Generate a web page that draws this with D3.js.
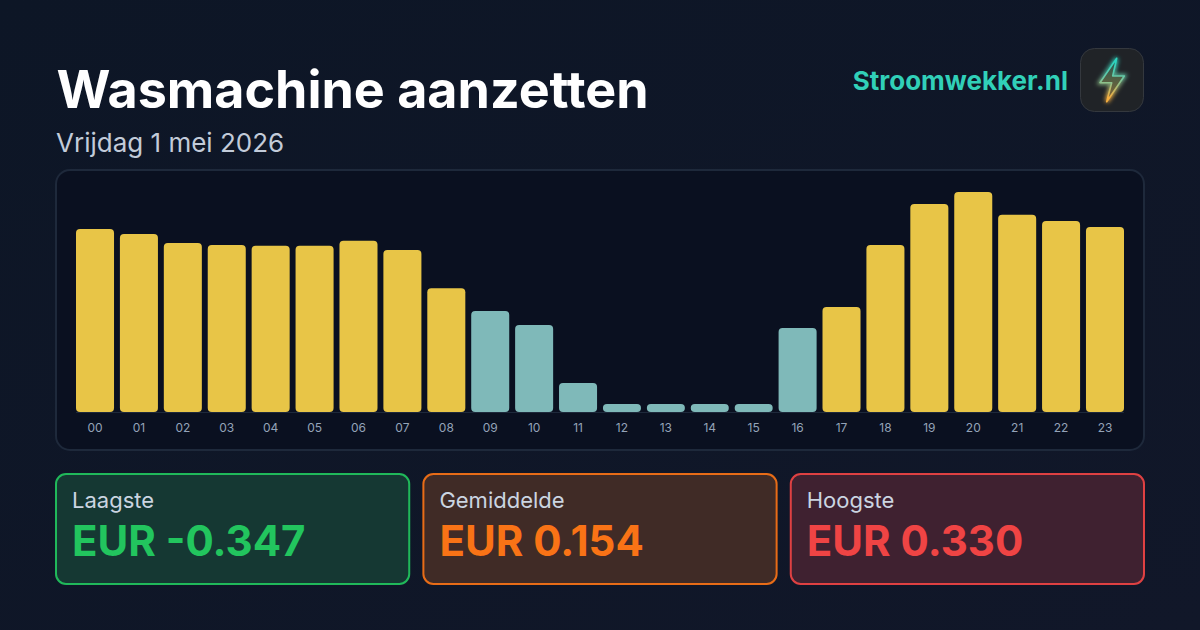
<!DOCTYPE html>
<html><head><meta charset="utf-8">
<script src="https://cdn.jsdelivr.net/npm/d3@7"></script>
<style>html,body{margin:0;padding:0;background:#0f172a;overflow:hidden}svg{display:block}text{font-family:Inter,sans-serif}</style>
</head><body><svg id="c" width="1200" height="630" xmlns="http://www.w3.org/2000/svg"></svg>
<script>
const hours = ["00","01","02","03","04","05","06","07","08","09","10","11","12","13","14","15","16","17","18","19","20","21","22","23"];
const prices = [0.212,0.196,0.167,0.161,0.158,0.158,0.174,0.145,0.023,-0.050,-0.095,-0.280,-0.347,-0.347,-0.347,-0.347,-0.104,-0.037,0.161,0.292,0.330,0.257,0.237,0.218];
const cheapHours = ["09","10","11","12","13","14","15","16"];
const statLabels = ["Laagste","Gemiddelde","Hoogste"];
const statValues = ["EUR -0.347","EUR 0.154","EUR 0.330"];
const statColors = ["#22c55e","#f97316","#ef4444"];
const statFills = ["#153833","#402b26","#3f2130"];
const title = "Wasmachine aanzetten", subtitle = "Vrijdag 1 mei 2026", brand = "Stroomwekker.nl";

const svg = d3.select("#c");
const defs = svg.append("defs");
const bg = defs.append("linearGradient").attr("id","bg").attr("x1",0).attr("y1",0).attr("x2",1).attr("y2",1);
bg.append("stop").attr("offset",0).attr("stop-color","#0d1626");
bg.append("stop").attr("offset",1).attr("stop-color","#111729");
const bolt = defs.append("linearGradient").attr("id","bolt").attr("x1",0).attr("y1",0).attr("x2",0).attr("y2",1);
bolt.append("stop").attr("offset",0.1).attr("stop-color","#2dd4bf");
bolt.append("stop").attr("offset",0.45).attr("stop-color","#6cc7a4");
bolt.append("stop").attr("offset",0.9).attr("stop-color","#f5ae3f");
const boltFill = defs.append("linearGradient").attr("id","boltFill").attr("x1",0).attr("y1",0).attr("x2",0).attr("y2",1);
boltFill.append("stop").attr("offset",0).attr("stop-color","#1f5a56");
boltFill.append("stop").attr("offset",1).attr("stop-color","#8a6530");
const blur = defs.append("filter").attr("id","glow").attr("x","-60%").attr("y","-60%").attr("width","220%").attr("height","220%");
blur.append("feGaussianBlur").attr("stdDeviation",2.2);

svg.append("rect").attr("width",1200).attr("height",630).attr("fill","url(#bg)");
svg.append("text").attr("x",56.5).attr("y",108).attr("font-size",52).attr("font-weight",700).attr("fill","#ffffff").text(title);
svg.append("text").attr("x",56).attr("y",152).attr("font-size",26).attr("fill","#c2cbd9").text(subtitle);
svg.append("text").attr("x",1068).attr("y",90).attr("text-anchor","end").attr("font-size",26).attr("font-weight",700).attr("fill","#31d0b8").text(brand);

// logo
const logo = svg.append("g").attr("transform","translate(1080,48)");
logo.append("rect").attr("x",.5).attr("y",.5).attr("width",63).attr("height",63).attr("rx",14).attr("fill","#202327").attr("stroke","#34383e");
const boltPath = "M36.7 10.3 L20 34.7 L31.7 34.7 L26.7 53.7 L44.3 28 L32.7 28 Z";
logo.append("path").attr("d",boltPath).attr("fill","none").attr("stroke","url(#bolt)").attr("stroke-width",3.5).attr("filter","url(#glow)");
logo.append("path").attr("d",boltPath).attr("fill","url(#boltFill)").attr("stroke","url(#bolt)").attr("stroke-width",1.6).attr("stroke-linejoin","round");

// chart panel
svg.append("rect").attr("x",56).attr("y",170).attr("width",1088).attr("height",280).attr("rx",14).attr("fill","#0a1020").attr("stroke","#1e293b").attr("stroke-width",2);
const x = d3.scaleBand().domain(hours).range([76,1124]).paddingInner(0.134).paddingOuter(0);
const y = d3.scaleLinear().domain([-0.347,0.330]).range([404,192]);
const base = 412;
const rr = (x0,y0,w,h,r)=>{const d=d3.path();d.moveTo(x0,y0+r);d.arcTo(x0,y0,x0+r,y0,r);d.arcTo(x0+w,y0,x0+w,y0+r,r);d.arcTo(x0+w,y0+h,x0+w-r,y0+h,r);d.arcTo(x0,y0+h,x0,y0+h-r,r);d.closePath();return d.toString();};
svg.append("g").selectAll("path").data(hours).join("path")
  .attr("d",(h,i)=>{const t=y(prices[i]);const H=base-t;return rr(x(h),t,x.bandwidth(),H,Math.min(4,H/2));})
  .attr("fill",h=>cheapHours.includes(h)?"#7fb9b9":"#e8c547");
svg.append("line").attr("x1",76).attr("x2",1124).attr("y1",412.5).attr("y2",412.5).attr("stroke","#1e293b");
const axis = d3.axisBottom(x).tickSize(0).tickPadding(0);
const ax = svg.append("g").attr("transform","translate(0,423)").call(axis);
ax.select(".domain").remove();
ax.selectAll("text").attr("font-family","Inter").attr("font-size",12).attr("fill","#94a3b8").attr("dy","0.71em");

// stat cards
const cards = d3.scaleBand().domain(statLabels).range([56,1144]).paddingInner(0.0385).paddingOuter(0);
const g = svg.append("g").selectAll("g").data(statLabels).join("g").attr("transform",d=>`translate(${cards(d)},474)`);
g.append("rect").attr("width",cards.bandwidth()).attr("height",110).attr("rx",10)
  .attr("fill",(d,i)=>statFills[i]).attr("stroke",(d,i)=>statColors[i]).attr("stroke-opacity",0.92).attr("stroke-width",2);
g.append("text").attr("x",16).attr("y",34).attr("font-size",20).attr("fill","#cbd5e1").style("font-size","22px").text(d=>d);
g.append("text").attr("x",16).attr("y",82).attr("font-size",42).attr("font-weight",700).attr("fill",(d,i)=>statColors[i]).text((d,i)=>statValues[i]);
</script></body></html>
